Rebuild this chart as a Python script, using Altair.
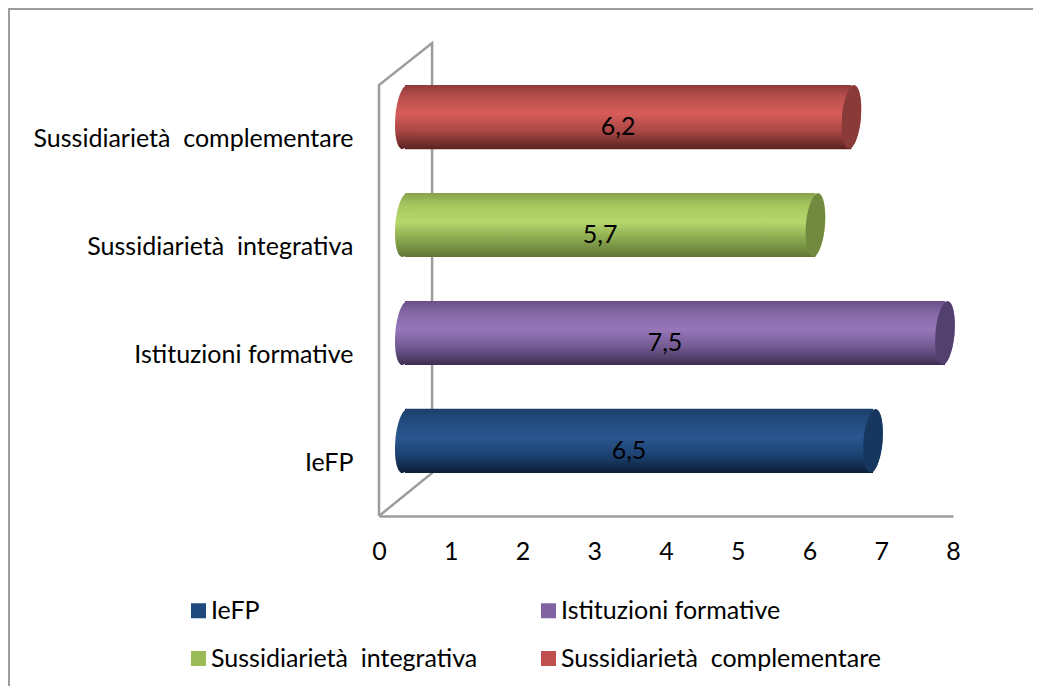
import altair as alt
import pandas as pd

FONT = "Lato"
SIZE = 25

categories = ["Sussidiarietà\u00a0 complementare", "Sussidiarietà\u00a0 integrativa", "Istituzioni formative", "IeFP"]
legend_order = ["IeFP", "Istituzioni formative", "Sussidiarietà\u00a0 integrativa", "Sussidiarietà\u00a0 complementare"]
values = [6.2, 5.7, 7.5, 6.5]
labels = ["6,2", "5,7", "7,5", "6,5"]
legend_colors = ["#1f497d", "#8064a2", "#9bbb59", "#c0504d"]
cap_colors = ["#8a3a38", "#728a40", "#54406f", "#17375e"]
shades = [
    ["#8f3c3a", "#bb504e", "#d65c59", "#a94745", "#5a2221"],
    ["#86a34c", "#a7c860", "#b5d86c", "#8aa84f", "#5f7635"],
    ["#6a5087", "#866aa8", "#9676b8", "#725a92", "#3d2d50"],
    ["#1b3f6c", "#234c80", "#29568e", "#1c4272", "#0b1f36"],
]
wall_x = [0, 0, 0.74, 0.74, 0]
wall_y = [0, 1, 1.0975, 0.1, 0]
wall_order = [0, 1, 2, 3, 4]
ticks = list(range(9))

W, H = 1025, 678
axis_x = alt.Scale(domain=[0, 8], range=[371, 945])
bar_x = alt.Scale(domain=[0, 8], range=[397, 973])
axis_y = alt.Scale(domain=categories, range=[77, 508])
bar_y = alt.Scale(domain=categories, range=[55.1, 486.9], paddingInner=0.406, paddingOuter=0.203)
CAP = "M0.08,-1 A0.3,1 5 1,1 -0.08,1 A0.3,1 5 1,1 0.08,-1 Z"
CAP_SIZE = 4096
GRAY = "#9c9c9c"

df = pd.DataFrame({"cat": categories, "val": values, "lab": labels, "zero": [0] * 4})

layers = []

# outer frame (top and left only: the rest lies outside the picture)
layers.append(alt.Chart(pd.DataFrame({"a": [0]})).mark_rule(color=GRAY, strokeWidth=2).encode(
    x=alt.value(1), x2=alt.value(W), y=alt.value(1)))
layers.append(alt.Chart(pd.DataFrame({"a": [0]})).mark_rule(color=GRAY, strokeWidth=2).encode(
    x=alt.value(1), y=alt.value(0), y2=alt.value(H)))

# back wall
wall = pd.DataFrame({"x": wall_x, "y": wall_y, "o": wall_order})
layers.append(alt.Chart(wall).mark_line(color=GRAY, strokeWidth=2.5).encode(
    x=alt.X("x:Q", scale=axis_x, axis=None),
    y=alt.Y("y:Q", scale=alt.Scale(domain=[0, 1], range=[508, 77]), axis=None),
    order="o:Q"))

# axes and legend
layers.append(alt.Chart(df).mark_square(size=0).encode(
    x=alt.X("zero:Q", scale=axis_x, title=None, axis=alt.Axis(
        orient="bottom", offset=508 - H, values=ticks, ticks=False, grid=False,
        domainColor=GRAY, domainWidth=2.5, labelFont=FONT, labelFontSize=SIZE,
        labelColor="#000000", labelPadding=23, labelFlush=False, labelOverlap=False, format="d")),
    y=alt.Y("cat:N", scale=axis_y, title=None, axis=alt.Axis(
        orient="left", offset=-345, ticks=False, domain=False, grid=False,
        labelFont=FONT, labelFontSize=SIZE, labelColor="#000000", labelPadding=0, labelLimit=500)),
    color=alt.Color("cat:N", scale=alt.Scale(domain=legend_order, range=legend_colors), legend=alt.Legend(
        title=None, orient="none", legendX=178, legendY=590, columns=2, direction="horizontal",
        symbolType="square", symbolSize=225, symbolStrokeWidth=0, labelFont=FONT, labelFontSize=SIZE,
        labelColor="#000000", labelOffset=0, columnPadding=58, rowPadding=22, padding=0, labelLimit=500,
        symbolOpacity=1)),
))

# cylinders
for i, cat in enumerate(categories):
    row = df[df["cat"] == cat]
    grad = alt.LinearGradient(
        gradient="linear", x1=0, x2=0, y1=0, y2=1,
        stops=[alt.GradientStop(offset=o, color=c) for o, c in zip([0, 0.2, 0.45, 0.72, 1], shades[i])])
    yb = alt.Y("cat:N", scale=bar_y, axis=None)
    layers.append(alt.Chart(row).mark_bar(color=grad).encode(
        x=alt.X("zero:Q", scale=bar_x, axis=None), x2="val:Q", y=yb))
    layers.append(alt.Chart(row).mark_point(shape=CAP, filled=True, fill=grad, opacity=1, size=CAP_SIZE).encode(
        x=alt.X("zero:Q", scale=bar_x, axis=None), y=yb))
    layers.append(alt.Chart(row).mark_point(shape=CAP, filled=True, fill=grad, opacity=1, size=CAP_SIZE).encode(
        x=alt.X("val:Q", scale=bar_x, axis=None), y=yb))
    layers.append(alt.Chart(row).mark_point(shape=CAP, filled=True, fill=cap_colors[i], opacity=1, size=CAP_SIZE * 0.96).encode(
        x=alt.X("val:Q", scale=bar_x, axis=None), y=yb))
    layers.append(alt.Chart(row).transform_calculate(mid="datum.val / 2").mark_text(
        font=FONT, fontSize=SIZE, color="#000000", dx=-10, dy=10).encode(
        x=alt.X("mid:Q", scale=bar_x, axis=None), y=yb, text="lab:N"))

chart = alt.layer(*layers).resolve_scale(x="independent", y="independent").properties(
    width=W, height=H, padding=0, autosize=alt.AutoSizeParams(type="none"),
    background="#ffffff").configure_view(stroke=None)

chart.save("out.html", embed_options={"renderer": "svg", "actions": False})
